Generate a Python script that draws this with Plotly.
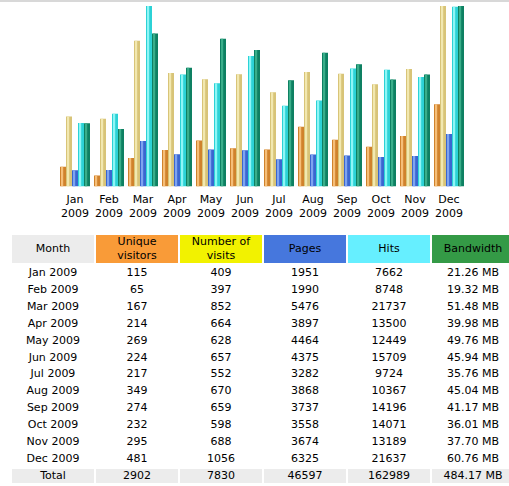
import plotly.graph_objects as go

months = ["Jan 2009", "Feb 2009", "Mar 2009", "Apr 2009", "May 2009", "Jun 2009",
          "Jul 2009", "Aug 2009", "Sep 2009", "Oct 2009", "Nov 2009", "Dec 2009"]
unique_visitors = [115, 65, 167, 214, 269, 224, 217, 349, 274, 232, 295, 481]
visits = [409, 397, 852, 664, 628, 657, 552, 670, 659, 598, 688, 1056]
pages = [1951, 1990, 5476, 3897, 4464, 4375, 3282, 3868, 3737, 3558, 3674, 6325]
hits = [7662, 8748, 21737, 13500, 12449, 15709, 9724, 10367, 14196, 14071, 13189, 21637]
bandwidth_mb = [21.26, 19.32, 51.48, 39.98, 49.76, 45.94, 35.76, 45.04, 41.17, 36.01, 37.70, 60.76]
totals = ["2902", "7830", "46597", "162989", "484.17 MB"]
header_labels = ["Month", "Unique<br>visitors", "Number of<br>visits", "Pages", "Hits", "Bandwidth"]
header_colors = ["#ECECEC", "#F99B38", "#F2F200", "#4677DD", "#66EFFF", "#349A46"]

W, H = 509, 486
FONT = "DejaVu Sans"
tick_labels = [m.replace(" ", "<br>") for m in months]

fig = go.Figure()

# ---------------- bar chart ----------------
series = [
    ("Unique visitors", unique_visitors, "y", "#D0822C", "#F6BE78"),
    ("Number of visits", visits, "y", "#D8C478", "#F2E8B0"),
    ("Pages", pages, "y2", "#3A66D0", "#7EA4F0"),
    ("Hits", hits, "y2", "#2CD2D6", "#8EF6F6"),
    ("Bandwidth", bandwidth_mb, "y3", "#0E8062", "#3AAE8A"),
]
cat_px = 34.0
for i, (name, vals, ax, dark, light) in enumerate(series):
    off = (-15 + 6 * i) / cat_px
    fig.add_trace(go.Bar(x=tick_labels, y=vals, yaxis=ax, name=name,
                         marker=dict(color=dark, line=dict(width=0)),
                         width=6 / cat_px, offset=off, showlegend=False))
    fig.add_trace(go.Bar(x=tick_labels, y=vals, yaxis=ax, name=name,
                         marker=dict(color=light, line=dict(width=0)),
                         width=2.2 / cat_px, offset=off + 1 / cat_px,
                         showlegend=False, hoverinfo="skip"))

ydom = [299.5 / H, 480 / H]
hidden = dict(showgrid=False, showticklabels=False, zeroline=False, showline=False, ticks="")

# ---------------- table (own axes, px-like units) ----------------
tab_top = 233
tab_h = H - tab_top
col_px = 84.0
ncols = 6
hdr_y0, hdr_y1 = 2, 30
row0_c, row_h = 40.3, 16.9

fig.update_layout(
    barmode="overlay",
    xaxis=dict(domain=[58 / W, 466 / W], type="category", showgrid=False, showline=False,
               ticks="", tickfont=dict(family=FONT, size=11, color="#000000"),
               zeroline=False, ticklabelstandoff=4, anchor="y"),
    yaxis=dict(domain=ydom, range=[0, max(visits)], anchor="x", **hidden),
    yaxis2=dict(domain=ydom, range=[0, max(hits)], overlaying="y", **hidden),
    yaxis3=dict(domain=ydom, range=[0, max(bandwidth_mb)], overlaying="y", **hidden),
    xaxis2=dict(domain=[11 / W, 1.0], range=[0, (W - 11) / col_px], anchor="y4", **hidden),
    yaxis4=dict(domain=[0, tab_h / H], range=[tab_h, 0], anchor="x2", **hidden),
)

n = len(months)
cols = [
    months + ["Total"],
    [str(v) for v in unique_visitors] + [totals[0]],
    [str(v) for v in visits] + [totals[1]],
    [str(v) for v in pages] + [totals[2]],
    [str(v) for v in hits] + [totals[3]],
    ["%.2f MB" % v for v in bandwidth_mb] + [totals[4]],
]

gap = 1 / col_px
shapes = []
for c in range(ncols):
    shapes.append(dict(type="rect", xref="x2", yref="y4", x0=c + gap, x1=c + 1 - gap,
                       y0=hdr_y0, y1=hdr_y1, fillcolor=header_colors[c],
                       line=dict(width=0), layer="below"))
    tc = row0_c + row_h * n
    shapes.append(dict(type="rect", xref="x2", yref="y4", x0=c + gap, x1=c + 1 - gap,
                       y0=tc - 7, y1=tc + 7, fillcolor="#ECECEC",
                       line=dict(width=0), layer="below"))

# header text
fig.add_trace(go.Scatter(
    x=[c + 0.5 for c in range(ncols)], y=[(hdr_y0 + hdr_y1) / 2] * ncols,
    xaxis="x2", yaxis="y4", mode="text", text=header_labels,
    textfont=dict(family=FONT, size=11, color="#000000"),
    textposition="middle center", hoverinfo="skip", showlegend=False))

# body text
xs, ys, ts = [], [], []
for c in range(ncols):
    for r, v in enumerate(cols[c]):
        xs.append(c + 0.5)
        ys.append(row0_c + row_h * r)
        ts.append(v)
fig.add_trace(go.Scatter(
    x=xs, y=ys, xaxis="x2", yaxis="y4", mode="text", text=ts,
    textfont=dict(family=FONT, size=11, color="#000000"),
    textposition="middle center", hoverinfo="skip", showlegend=False))

shapes.append(dict(type="rect", xref="paper", yref="paper", x0=0, x1=1,
                   y0=1 - 2 / H, y1=1, fillcolor="#D8D8D8", line=dict(width=0),
                   layer="above"))

fig.update_layout(shapes=shapes, width=W, height=H, margin=dict(l=0, r=0, t=0, b=0),
                  paper_bgcolor="#FFFFFF", plot_bgcolor="rgba(0,0,0,0)", showlegend=False)

fig.write_html("out.html", config={"displayModeBar": False},
               post_script="document.body.style.margin='0px';document.body.style.overflow='hidden';")
